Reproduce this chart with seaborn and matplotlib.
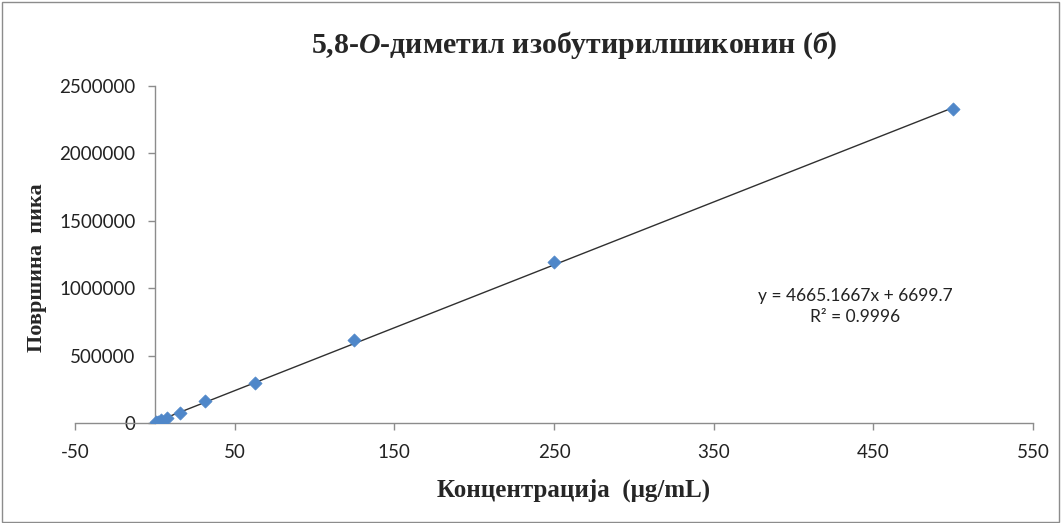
import numpy as np
import pandas as pd
import seaborn as sns
import matplotlib.pyplot as plt
from matplotlib.patches import Rectangle

# calibration points
concentration = [0.98, 1.95, 3.9, 7.8, 15.6, 31.25, 62.5, 125, 250, 500]
peak_area = [4000, 9000, 19000, 36000, 73000, 160000, 297000, 615000, 1193000, 2327000]

# trendline shown on chart
slope = 4665.1667
intercept = 6699.7
r_squared = 0.9996

x_ticks = [-50, 50, 150, 250, 350, 450, 550]
y_ticks = [0, 500000, 1000000, 1500000, 2000000, 2500000]

sns.set_theme(style="white")
plt.rcParams['font.family'] = ['Lato', 'DejaVu Sans']
plt.rcParams['mathtext.fontset'] = 'custom'
plt.rcParams['mathtext.rm'] = 'Liberation Serif:bold'
plt.rcParams['mathtext.it'] = 'Liberation Serif:italic:bold'

df = pd.DataFrame({'conc': concentration, 'area': peak_area})

fig = plt.figure(figsize=(10.61, 5.23), dpi=100)
ax = fig.add_axes([0.0707, 0.1912, 0.9029, 0.6444])

# trendline over the data range
x_fit = np.array([df['conc'].min(), df['conc'].max()])
y_fit = slope * x_fit + intercept
sns.lineplot(x=x_fit, y=y_fit, ax=ax, color='#303030', lw=1.0)

sns.scatterplot(data=df, x='conc', y='area', ax=ax, marker='D', s=45,
                color='#4F87C9', edgecolor='#4F87C9', linewidth=0.5, zorder=3)

ax.set_xlim(-50, 550)
ax.set_ylim(0, 2500000)
ax.set_xticks(x_ticks)
ax.set_yticks(y_ticks)
ax.set_xticklabels([str(t) for t in x_ticks])
ax.set_yticklabels([str(t) for t in y_ticks])

gray = '#8C8C8C'
ax.spines['left'].set_position(('data', 0))
ax.spines['top'].set_visible(False)
ax.spines['right'].set_visible(False)
for s in ['left', 'bottom']:
    ax.spines[s].set_color(gray)
    ax.spines[s].set_linewidth(1.0)
ax.tick_params(axis='x', direction='out', length=5, width=1, color=gray,
               labelsize=13.5, labelcolor='#222222', pad=10, bottom=True)
ax.tick_params(axis='y', direction='out', length=5, width=1, color=gray,
               labelsize=13.5, labelcolor='#222222', pad=9, left=True)
ax.set_xlabel('')
ax.set_ylabel('')
ax.grid(False)

fig.text(0.541, 0.914, r'5,8-$\mathit{O}$-диметил изобутирилшиконин ($\mathit{б}$)',
         ha='center', va='center', fontsize=21.5, fontweight='bold',
         family='Liberation Serif')
fig.text(0.541, 0.063, 'Концентрација  (μg/mL)', ha='center', va='center',
         fontsize=18, fontweight='bold', family='Liberation Serif')
fig.text(0.035, 0.489, 'Површина  пика', ha='center', va='center', rotation=90,
         fontsize=16, fontweight='bold', family='Liberation Serif')

ax.text(0.806, 0.414, 'y = %.4fx + %.1f\nR² = %.4f' % (slope, intercept, r_squared),
        transform=fig.transFigure, ha='center', va='center', fontsize=12.5,
        color='#222222', linespacing=1.45, multialignment='center')

fig.patches.append(Rectangle((0.0015, 0.002), 0.997, 0.995, transform=fig.transFigure,
                             fill=False, edgecolor=gray, lw=1.0))

fig.savefig('out.png', dpi=100)
